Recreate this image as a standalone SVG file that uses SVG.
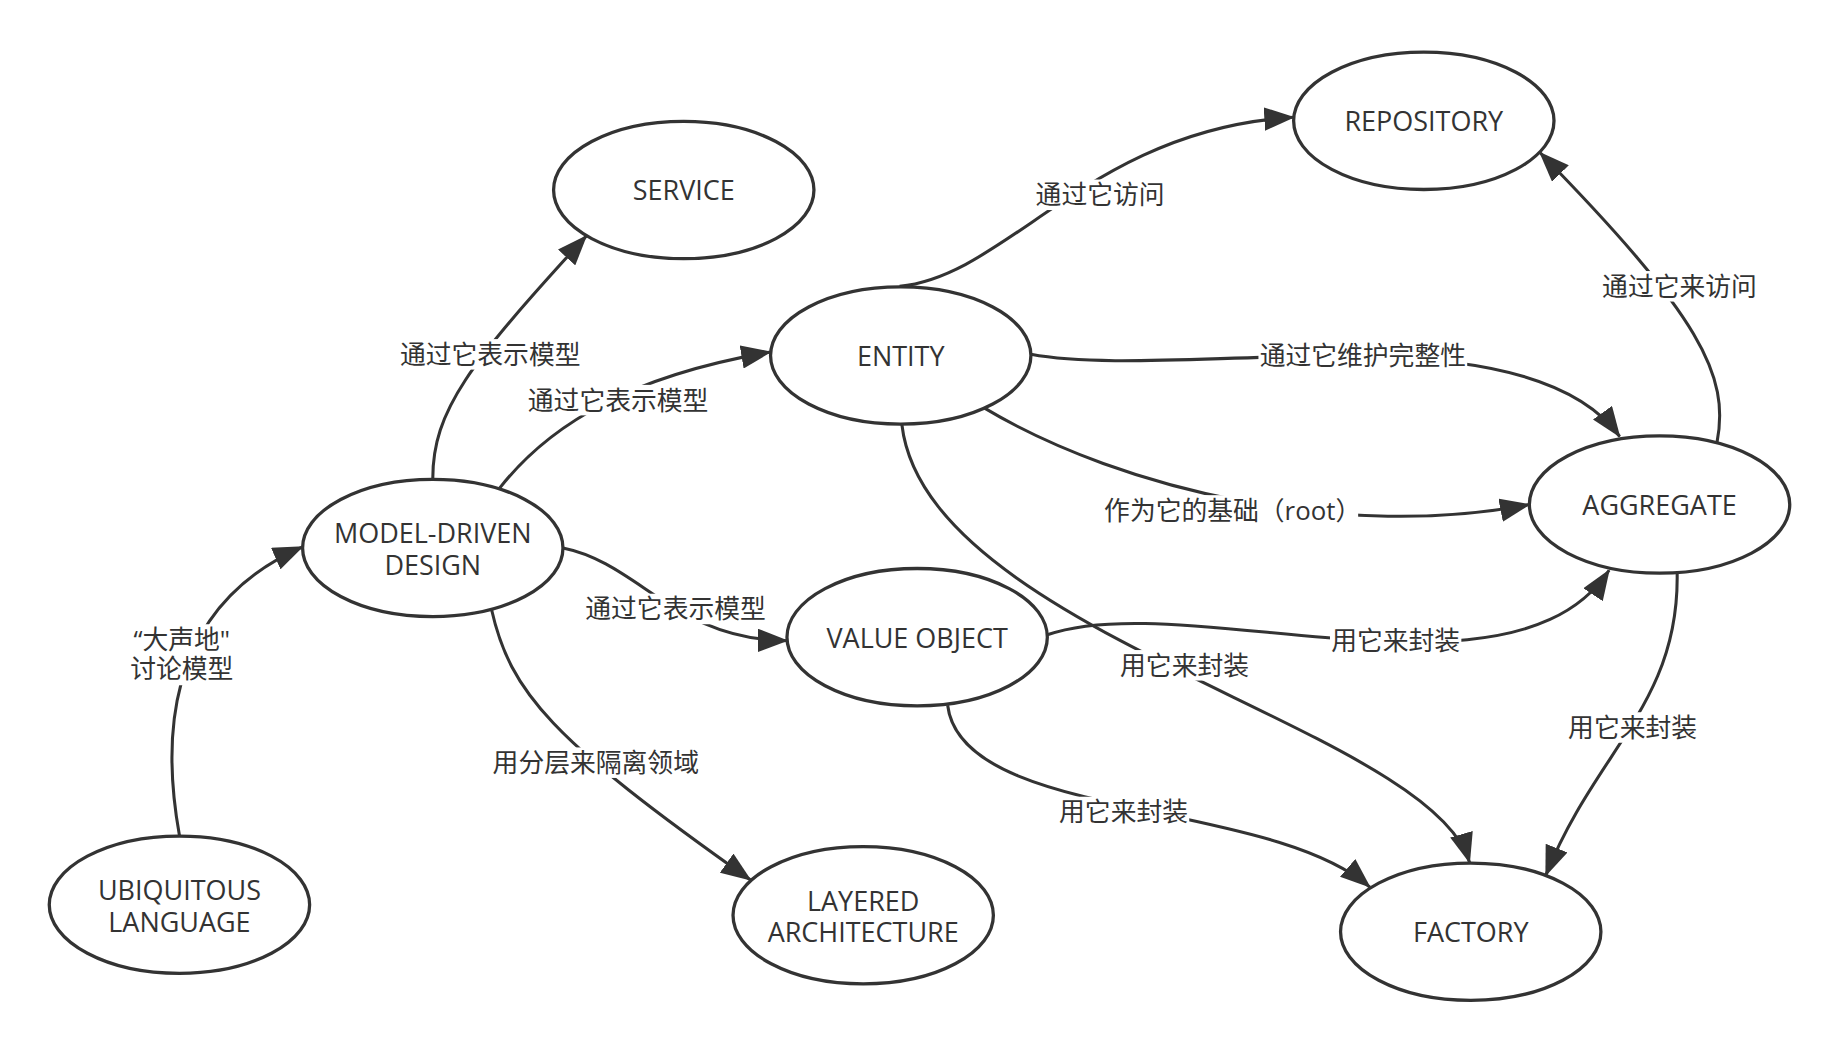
<svg xmlns="http://www.w3.org/2000/svg" width="1839" height="1049" viewBox="0 0 1839 1049">
<defs>
<marker id="arr" markerUnits="userSpaceOnUse" markerWidth="26" markerHeight="20" viewBox="0 0 26 20" refX="25" refY="10" orient="auto">
<path d="M0,0 L26,10 L0,20 z" fill="#333"/>
</marker>
<style>
.node ellipse{fill:#fff;stroke:#333;stroke-width:2.8}
.node text{font-family:"Open Sans","Noto Sans CJK SC",sans-serif;font-size:23px;fill:#333;text-anchor:middle}
.edge path{fill:none;stroke:#333;stroke-width:2.6;marker-end:url(#arr)}
.edge rect{fill:#fff}
.edge text{font-family:"Open Sans","Noto Sans CJK SC",sans-serif;font-size:22px;fill:#333;text-anchor:middle}
</style>
</defs>
<rect width="1839" height="1049" fill="#fff"/>
<g transform="scale(1.17283,1.17338)">
<g id="connectors" class="edge">
<path d="M153,712 C140,640 135,520 258,466"/>
<path d="M369,408 C369,350 400,310 500,201"/>
<path d="M426,416 C470,360 540,320 657,300"/>
<path d="M480,467 C545,480 575,545 671,546"/>
<path d="M419,519 C435,590 470,630 640,750"/>
<path d="M767,244 C860,235 930,110 1103,100"/>
<path d="M1464,377 C1475,320 1450,270 1313,130"/>
<path d="M879,302 C1000,325 1300,260 1381,372"/>
<path d="M838,347 C960,420 1150,460 1304,430"/>
<path d="M769,362 C790,540 1220,620 1253,735"/>
<path d="M893,541 C1010,500 1290,610 1372,486"/>
<path d="M808,601 C820,700 1080,680 1168,756"/>
<path d="M1430,488 C1432,600 1360,640 1318,746"/>
<rect x="116" y="532" width="78" height="52"/>
<text x="155" y="553">“大声地"</text>
<text x="155" y="578">讨论模型</text>
<rect x="340" y="289" width="156" height="26"/>
<text x="418" y="310">通过它表示模型</text>
<rect x="449" y="328" width="156" height="26"/>
<text x="527" y="349">通过它表示模型</text>
<rect x="498" y="506" width="156" height="26"/>
<text x="576" y="527">通过它表示模型</text>
<rect x="419" y="637" width="178" height="26"/>
<text x="508" y="658">用分层来隔离领域</text>
<rect x="882" y="153" width="112" height="26"/>
<text x="938" y="174">通过它访问</text>
<rect x="1365" y="231" width="134" height="26"/>
<text x="1432" y="252">通过它来访问</text>
<rect x="1073" y="290" width="178" height="26"/>
<text x="1162" y="311">通过它维护完整性</text>
<rect x="944" y="422" width="214" height="26"/>
<text x="1051" y="443">作为它的基础（root）</text>
<rect x="954" y="554" width="112" height="26"/>
<text x="1010" y="575">用它来封装</text>
<rect x="1134" y="533" width="112" height="26"/>
<text x="1190" y="554">用它来封装</text>
<rect x="902" y="679" width="112" height="26"/>
<text x="958" y="700">用它来封装</text>
<rect x="1336" y="607" width="112" height="26"/>
<text x="1392" y="628">用它来封装</text>
</g>
<g id="service" class="node"><ellipse cx="583" cy="162" rx="111" ry="58.5"/><text x="583" y="170.5">SERVICE</text></g>
<g id="repository" class="node"><ellipse cx="1214" cy="103" rx="111" ry="58.5"/><text x="1214" y="112">REPOSITORY</text></g>
<g id="entity" class="node"><ellipse cx="768" cy="303" rx="111" ry="58.5"/><text x="768" y="312">ENTITY</text></g>
<g id="model-driven-design" class="node"><ellipse cx="369" cy="467" rx="111" ry="58.5"/><text x="369" y="463">MODEL-DRIVEN</text><text x="369" y="490">DESIGN</text></g>
<g id="value-object" class="node"><ellipse cx="782" cy="543" rx="111" ry="58.5"/><text x="782" y="552">VALUE OBJECT</text></g>
<g id="aggregate" class="node"><ellipse cx="1415" cy="430" rx="111" ry="58.5"/><text x="1415" y="439">AGGREGATE</text></g>
<g id="ubiquitous-language" class="node"><ellipse cx="153" cy="771" rx="111" ry="58.5"/><text x="153" y="767">UBIQUITOUS</text><text x="153" y="794">LANGUAGE</text></g>
<g id="layered-architecture" class="node"><ellipse cx="736" cy="780" rx="111" ry="58.5"/><text x="736" y="776">LAYERED</text><text x="736" y="803">ARCHITECTURE</text></g>
<g id="factory" class="node"><ellipse cx="1254" cy="794" rx="111" ry="58.5"/><text x="1254" y="803">FACTORY</text></g>
</g>
</svg>
